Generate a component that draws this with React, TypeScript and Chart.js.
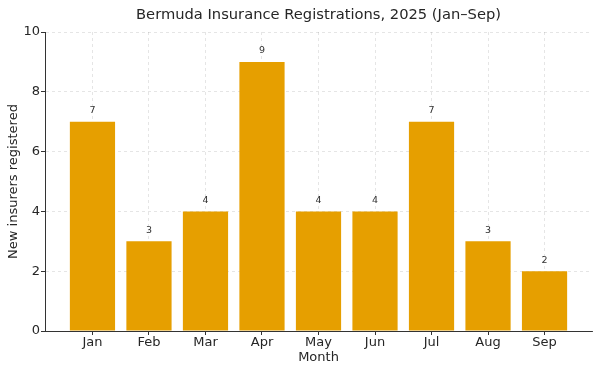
import React, { useEffect, useRef } from "react";
import { Chart, registerables } from "chart.js";

Chart.register(...registerables);

const months = ["Jan", "Feb", "Mar", "Apr", "May", "Jun", "Jul", "Aug", "Sep"];
const registrations = [7, 3, 4, 9, 4, 4, 7, 3, 2];
const chartTitle = "Bermuda Insurance Registrations, 2025 (Jan–Sep)";
const xTitle = "Month";
const yTitle = "New insurers registered";

const FONT = "'DejaVu Sans', sans-serif";
const TEXT = "#262626";

const valueLabels = {
  id: "valueLabels",
  afterDatasetsDraw(chart: any) {
    const ctx = chart.ctx;
    const meta = chart.getDatasetMeta(0);
    ctx.save();
    ctx.font = `9.5px ${FONT}`;
    ctx.fillStyle = "#333333";
    ctx.textAlign = "center";
    ctx.textBaseline = "middle";
    meta.data.forEach((el: any, i: number) => {
      ctx.fillText(String(registrations[i]), el.x, el.y - 11);
    });
    ctx.restore();
  },
};

const areaTitle = {
  id: "areaTitle",
  afterDraw(chart: any) {
    const ctx = chart.ctx;
    const a = chart.chartArea;
    ctx.save();
    ctx.font = `14.7px ${FONT}`;
    ctx.fillStyle = TEXT;
    ctx.textAlign = "center";
    ctx.textBaseline = "middle";
    ctx.fillText(chartTitle, (a.left + a.right) / 2, 15);
    ctx.restore();
  },
};

export default function App() {
  const ref = useRef<HTMLCanvasElement | null>(null);
  useEffect(() => {
    document.body.style.margin = "0";
    const n = months.length;
    const chart = new Chart(ref.current!, {
      type: "bar",
      data: {
        datasets: [
          {
            data: registrations.map((v, i) => ({ x: i, y: v })),
            backgroundColor: "#E69F00",
            borderWidth: 0,
            barPercentage: 0.8,
            categoryPercentage: 1.0,
          },
        ],
      },
      plugins: [valueLabels, areaTitle],
      options: {
        animation: false,
        responsive: false,
        maintainAspectRatio: false,
        layout: { padding: { left: 0, right: 8, top: 32, bottom: 0 } },
        plugins: {
          legend: { display: false },
          tooltip: { enabled: false },
          title: { display: false },
        },
        scales: {
          x: {
            type: "linear",
            offset: false,
            min: -0.84,
            max: n - 1 + 0.84,
            afterBuildTicks: (axis: any) => {
              axis.ticks = months.map((_, i) => ({ value: i }));
            },
            afterFit: (axis: any) => {
              axis.height = 41;
            },
            ticks: {
              autoSkip: false,
              maxRotation: 0,
              padding: 0,
              color: TEXT,
              font: { family: FONT, size: 13 },
              callback: (v: any) => months[Math.round(Number(v))] ?? "",
            },
            grid: {
              offset: false,
              color: "rgba(0,0,0,0.13)",
              lineWidth: 0.8,
              tickLength: 4,
              tickColor: "#333333",
              tickWidth: 1,
              tickBorderDash: [],
            },
            border: { display: true, color: "#333333", width: 1, dash: [3, 3] },
            title: {
              display: true,
              text: xTitle,
              color: TEXT,
              font: { family: FONT, size: 13 },
              padding: { top: 0, bottom: 7 },
            },
          },
          y: {
            min: 0,
            max: 10,
            afterFit: (axis: any) => {
              axis.width = 45;
            },
            ticks: {
              stepSize: 2,
              padding: 1,
              color: TEXT,
              font: { family: FONT, size: 13 },
            },
            grid: {
              color: "rgba(0,0,0,0.13)",
              lineWidth: 0.8,
              tickLength: 4,
              tickColor: "#333333",
              tickWidth: 1,
              tickBorderDash: [],
            },
            border: { display: true, color: "#333333", width: 1, dash: [3, 3] },
            title: {
              display: true,
              text: yTitle,
              color: TEXT,
              font: { family: FONT, size: 13 },
              padding: { top: 6, bottom: 0 },
            },
          },
        },
      } as any,
    });
    return () => chart.destroy();
  }, []);
  return (
    <div style={{ position: "fixed", left: 0, top: 0, width: 600, height: 372 }}>
      <canvas ref={ref} width={600} height={372} style={{ width: 600, height: 372 }} />
    </div>
  );
}
